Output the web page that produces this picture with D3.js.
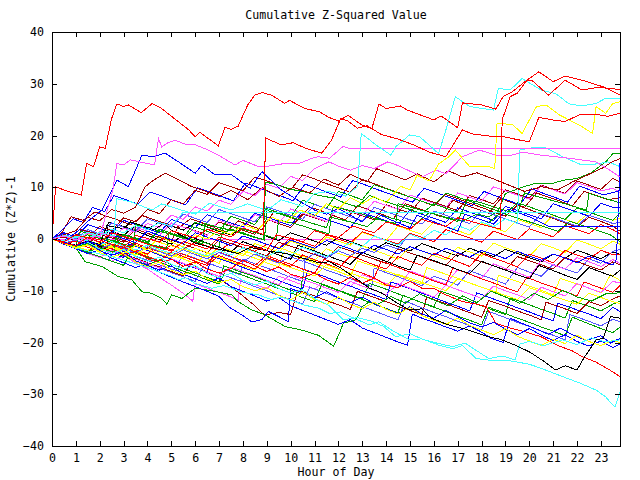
<!DOCTYPE html>
<html>
<head>
<meta charset="utf-8">
<script src="https://cdn.jsdelivr.net/npm/d3@7"></script>
<style>
  html, body { margin: 0; padding: 0; background: #fff; }
  svg { display: block; }
  text { font-family: "DejaVu Sans Mono", "Liberation Mono", monospace; font-size: 11.6px; fill: #000; }
</style>
</head>
<body>
<div id="chart"></div>
<script>
// tick labels
const hourTicks = d3.range(0, 24);
const valueTicks = [-40, -30, -20, -10, 0, 10, 20, 30, 40];

// line colours (old gd terminal palette)
const RED = '#ff0000', GREEN = '#00a000', BLUE = '#0000ff', MAGENTA = '#ff55ff', CYAN = '#44ffff',
      DARKRED = '#a00000', YELLOW = '#ffff00', BLACK = '#000000', SLATE = '#5555ff';

// each series: flat list of hour, cumulative value pairs
const s01 = [0,0, .15,10.1, .6,9.3, 1.23,8.5, 1.45,14.6, 1.74,14, 2,17.8, 2.23,17.5, 2.5,23.3, 2.72,26.1, 3,25.6, 3.2,25.9, 3.74,24.4, 4.2,26.2, 4.6,25.2, 5.2,23, 5.7,21.2, 6,19.8, 6.2,20.6, 6.97,18, 7.25,21.6, 7.5,21.2, 7.8,21.8, 8.2,25.9, 8.5,27.8, 8.8,28.3, 9.2,27.8, 9.75,26.2, 9.95,26.8, 10.6,25.2, 11.2,24.6, 11.6,23.5, 12,22.8, 12.4,23.9, 13,22, 13.4,21.3, 13.7,26.1, 14,25.2, 14.6,25.7, 14.9,24.9, 16,23, 16.3,23.8, 17,21.5, 17.2,26.3, 18,25.9, 18.6,25.1, 18.9,27.5, 19.3,28.5, 19.9,30.7, 20.4,32.3, 21,30.4, 21.5,31.5, 22.2,30.7, 23.1,29.4, 23.8,27.8];
const s02 = [0,0, .5,-.8, 1,-1.3, 1.5,.4, 2,-.2, 2.5,-1, 3,-1.6, 3.5,.7, 4,.1, 4.5,-.6, 5,1.6, 5.5,.9, 6,.2, 6.5,1.9, 7,1.1, 7.5,.4, 8,2.1, 8.5,1.4, 8.85,.9, 8.95,19.5, 9.6,18.2, 10.1,18.6, 10.6,17.6, 11,17, 11.3,16.6, 11.7,19, 12.1,23.3, 12.4,22.8, 12.8,21.4, 13.2,21.9, 13.8,20.2, 14.5,19.3, 15.2,18.1, 15.8,16.8, 16.5,15.9, 17.2,21.1, 17.6,20.3, 18.3,19.9, 18.9,19.8, 19.5,19.2, 20,18.8, 20.4,23.5, 21,23, 21.5,22.7, 22.1,24, 22.8,24.1, 23.3,23.7, 23.8,24.3];
const s03 = [0,0, .5,-.5, 1,.8, 1.5,.2, 2,-.6, 2.5,1.2, 3,.5, 3.5,-.2, 4,-1, 4.5,-1.7, 5,-2.3, 5.5,-.5, 6,-1.2, 6.5,-1.9, 7,.4, 7.5,-.3, 8,-1.1, 8.5,-1.6, 9,-2.2, 9.4,.8, 10,.1, 10.5,-.6, 11,1.6, 11.5,.9, 12,.3, 12.6,2.5, 13,1.9, 13.5,1.2, 14,3.3, 14.5,2.6, 15,1.9, 15.5,3.8, 16,3.1, 16.5,2.4, 17,4.1, 17.5,3.5, 18,2.8, 18.8,1.9, 18.86,23, 19.2,27.5, 19.5,28.2, 19.9,30.7, 20.1,30.7, 20.8,27.8, 21.3,29.8, 21.5,30.7, 22.2,28.8, 22.9,29.3, 23.8,28.9];
const s04 = [0,0, .5,-.4, 1,.6, 1.5,.1, 2,1.3, 2.6,.6, 2.7,7.8, 3.3,7.2, 4.2,5.6, 4.6,6.8, 5.2,5.9, 6,4.8, 6.6,6.9, 7.5,5.6, 8.2,6.8, 9,5.5, 9.6,7.6, 10.5,6.3, 11,8.8, 11.6,9.2, 12.3,8.3, 12.8,10.1, 12.96,20.4, 13.6,18.1, 14.2,16.2, 14.4,17.8, 14.98,20.1, 15.4,19.8, 16.2,16.5, 16.5,21, 16.9,27.5, 17.5,25.6, 18.5,24.9, 18.7,29.1, 19.2,28.8, 19.7,31, 20.5,28.8, 21.1,28.1, 21.67,26.1, 22.2,25.7, 22.8,26.2, 23.2,27.2, 23.8,27.2];
const s05 = [0,0, .5,-.9, 1,-1.6, 1.5,-1.1, 2,-2.4, 2.5,-1.5, 3,-2.8, 3.5,-1.2, 4,-2.1, 4.5,.5, 5,-.6, 5.5,-1.5, 6,.8, 6.5,0, 7,1.7, 7.5,.9, 8,2.8, 8.6,1.8, 9.2,4.2, 9.8,3.2, 10.4,5.6, 11,4.4, 11.5,6.8, 12,5.8, 12.5,8, 13,6.8, 13.5,8.2, 14,7, 14.6,10.2, 15,9.5, 15.3,12.3, 15.8,11.2, 16.2,14.5, 16.6,15.8, 16.9,17.2, 17.5,14, 18.3,14, 18.55,13.6, 18.65,22.4, 19.3,22.1, 19.7,20.4, 20.3,25.6, 20.7,25.9, 21.25,24, 22.1,22, 22.65,20.4, 22.8,25.6, 23.2,24.3, 23.5,26.2, 23.8,26.5];
const s06 = [0,0, .5,.6, 1,-.2, 1.5,1.1, 2,.3, 2.55,9.5, 2.72,14.6, 3,14.3, 3.28,15.3, 3.77,14.8, 4.3,14.3, 4.46,19.4, 4.6,17.8, 4.81,18.5, 5.16,19.1, 5.6,18.3, 6,18.2, 6.55,17.2, 6.97,16.2, 7.67,14.3, 8,15.2, 8.65,14, 9.1,14.1, 9.76,14.6, 10.3,14.5, 10.9,15.6, 11.16,15.9, 11.63,15.6, 12.2,17.9, 12.47,17.5, 23.8,17.5];
const s07 = [0,0, .5,-.3, 1,1.2, 1.5,3.4, 2.09,5.6, 2.72,11.4, 3.2,10.1, 3.77,16.2, 4.25,15.9, 4.74,16.6, 5.3,14.9, 6,12.7, 6.28,14.3, 6.83,12.4, 7.53,12.4, 8.3,9.8, 8.8,13, 9.6,9.5, 10.3,7.5, 11,5.6, 11.5,4.8, 12,5.9, 12.5,4.6, 13,3.3, 13.4,5.4, 14.2,3.7, 15,2.2, 15.3,4.6, 16.4,2.6, 17,1.5, 17.3,4.8, 18.5,2.9, 19.1,5.8, 20,4.3, 20.8,2.5, 23.8,2.5];
const s08 = [0,0, .5,.8, 1,1.6, 1.5,4.2, 2,3.5, 2.5,5.7, 3,5, 3.5,6.1, 3.9,10.1, 4.3,11.5, 4.74,12.7, 5.2,11.7, 5.86,10.1, 6.28,9.5, 7,8.2, 7.5,9.4, 8.2,7.6, 8.8,9.9, 9.5,8.2, 10.1,10, 10.8,8.9, 11.4,11.6, 12,10.4, 12.5,12.5, 13.2,11, 13.6,13.6, 14.2,12.5, 14.8,11.4, 15.3,12.6, 16,11, 16.6,13.2, 17.2,12, 17.8,12.8, 18.5,11.6, 19.2,10.3, 19.8,9.2, 20.5,10.1, 21.2,9.5, 21.8,11, 22.5,12.5, 23.1,13.8, 23.5,15, 23.8,15.5];
const s09 = [0,0, .5,-.5, 1,.4, 1.5,-.2, 2,1.2, 2.5,.4, 3,2.1, 3.5,1.3, 4,3, 4.5,2.2, 5,4.6, 5.5,3.8, 6,6.2, 6.5,5.4, 7,7.5, 7.5,6.7, 8,9.2, 8.5,8.4, 9,10.6, 9.5,9.8, 10,12.1, 10.5,11.3, 11,13.6, 11.6,14.9, 12,14.1, 12.5,13.3, 13,14.2, 13.5,13.6, 14.07,14.9, 14.5,14.2, 15,13.1, 15.5,12, 16.1,13.3, 16.5,12.6, 17.2,15.9, 17.9,17.2, 18.6,16.2, 19.2,16.1, 19.7,16.8, 20.5,16.2, 21.7,15.6, 22.8,14.9, 23.3,13.5, 23.8,12];
const s10 = [0,0, .5,-.8, 1,-1.7, 1.5,-2.3, 2,-2.9, 2.5,-3.4, 3,-4.1, 3.5,-4.8, 4,-5.5, 4.5,-6.4, 5,-7.2, 5.3,-7.9, 5.6,-7.5, 6,-8.6, 6.7,-9.5, 7.2,-9, 8,-10.3, 8.65,-10.8, 9.2,-11.7, 9.6,-11.2, 10.6,-12.8, 11.2,-13.4, 11.63,-14.4, 12.1,-14.1, 12.6,-15.2, 13.3,-16.6, 13.7,-16, 14.3,-17.8, 14.98,-19.5, 15.5,-19.3, 16.2,-20.5, 16.8,-21.2, 17.2,-20.6, 17.77,-23.1, 18.5,-23.5, 19,-23.4, 19.4,-23.7, 20,-24.2, 20.5,-25, 21.4,-26.6, 22.1,-27.8, 22.8,-29.2, 23.2,-30.5, 23.5,-32.1, 23.6,-32.4, 23.8,-29.5];
const s11 = [0,0, .5,-.5, 1,-1.3, 1.5,-.6, 2,-1.9, 2.5,-2.8, 3,-2, 3.5,-3.4, 4,-4.3, 4.5,-3.5, 5,-4.9, 5.5,-5.8, 6,-5.1, 6.5,-6.7, 7,-7.5, 7.5,-6.6, 8,-8, 8.5,-8.9, 9,-8.1, 9.5,-9.6, 10,-10.4, 10.5,-9.8, 11,-11.5, 11.6,-12.8, 12.2,-15.6, 12.8,-15.2, 13.4,-15.9, 13.9,-16.9, 14.4,-18.9, 15,-18.3, 15.6,-19.5, 16.2,-20.2, 16.8,-20.8, 17.3,-20.1, 18.3,-23.1, 18.9,-22.6, 19.4,-23.4, 19.6,-20.3, 20,-19.8, 20.6,-20.6, 21.4,-19.5, 22,-20.4, 22.6,-19.1, 23.2,-19.9, 23.8,-19.5];
const s12 = [0,0, .5,-.6, 1,-1.2, 1.5,-.4, 2,-1.1, 2.3,2.6, 3,2, 3.3,3.3, 3.8,2.5, 4.3,1.8, 4.7,3.1, 5,1.7, 5.5,.5, 6,-.8, 6.5,-1.4, 7,-2, 7.8,-2.8, 8.3,-1.6, 9,-2.3, 9.8,-2.8, 10.5,-3.7, 11.2,-4.6, 11.63,-4.4, 12.1,-5.6, 12.6,-7.2, 13.3,-9.5, 13.8,-10.4, 14.4,-12.2, 14.98,-13.7, 15.5,-13.5, 15.9,-15.3, 16.6,-16.6, 17.3,-17.4, 18.3,-18.9, 18.8,-19.4, 19.4,-20.5, 20,-21.8, 20.6,-23.6, 21.1,-25.3, 21.5,-24.5, 22,-25.3, 22.3,-22.9, 22.8,-19.5, 23.1,-19.2, 23.4,-15, 23.8,-15.3];
const s13 = [0,0, .5,-.9, 1,-.4, 1.5,-1.6, 2,-2.4, 2.5,-1.8, 3,-3.1, 3.5,-2.4, 4,-3.8, 4.5,-4.6, 5,-3.9, 5.5,-5.3, 6,-4.4, 6.5,-5.8, 7,-6.6, 7.5,-5.7, 8,-4.1, 8.5,-5.2, 9,-6.3, 9.5,-5.4, 10,-6.8, 10.5,-7.5, 11,-6.6, 11.5,-7.9, 12,-8.7, 12.5,-7.4, 13,-8.6, 13.5,-7.5, 14,-8.9, 14.5,-9.4, 15,-8.2, 15.5,-9.5, 16,-9.5, 16.4,-10.6, 17.2,-12.1, 17.8,-12.6, 18.2,-13.1, 18.6,-16.3, 19.2,-17.2, 19.8,-17.9, 20.5,-18.9, 21.2,-20.6, 21.8,-21.6, 22.2,-22.7, 22.8,-23.8, 23.4,-25.4, 23.8,-26.6];
const s14 = [0,0, .5,-.8, 1,-1.7, 1.39,-4.4, 2.09,-5.3, 2.79,-7.3, 3.35,-7.9, 3.77,-10.2, 4.18,-10.5, 4.6,-11.5, 4.81,-12.6, 5.02,-10.8, 5.44,-11.5, 6,-9.5, 6.7,-10, 7.53,-10.8, 7.8,-12.1, 8.37,-13.7, 8.9,-14.6, 9.76,-16.9, 10.46,-17.6, 11.16,-18.6, 11.8,-20.7, 12.1,-17.6, 12.2,-16.3, 12.75,-15.6, 13,-13.1, 13.3,-12.1, 13.6,-12.8, 14.2,-11.1, 14.8,-12.4, 15.4,-10.6, 16,-11.8, 16.6,-12.9, 17.2,-11, 17.8,-12.3, 18.4,-10.1, 19,-11.2, 19.6,-12.4, 20.2,-10.5, 20.8,-11.7, 21.4,-9.9, 22,-11.2, 22.6,-12, 23.2,-10.6, 23.8,-10.4];
const s15 = [0,0, .5,-1, 1,-1.9, 1.5,-2.8, 2,-2.1, 2.5,-3.7, 3,-4.6, 3.5,-5.5, 4,-4.8, 4.5,-6.4, 5,-7.4, 5.5,-8.3, 6,-9.2, 6.5,-10.1, 7,-11.1, 7.4,-13.1, 8,-14.8, 8.37,-16, 8.79,-15.6, 9.07,-14, 9.5,-15, 9.9,-16, 10,-9.6, 10.5,-10.4, 11,-11.3, 11.5,-10.2, 12,-11.4, 12.5,-12.3, 13,-11.2, 13.5,-12.5, 14,-13.5, 14.5,-14.4, 15,-13.1, 15.5,-14.5, 16,-15.3, 16.5,-13.8, 17,-15, 17.5,-16.2, 18,-17, 18.5,-16.1, 19,-17.4, 19.5,-18.5, 20,-17.3, 20.5,-18.6, 21,-19.6, 21.5,-18.5, 22,-19.8, 22.5,-20.7, 23,-19.7, 23.5,-21, 23.8,-20.3];
const s16 = [0,0, .5,-.7, 1,-1.5, 1.5,-.8, 2,-2.3, 2.5,-3.1, 3,-2.4, 3.5,-4.2, 4,-5.1, 4.5,-6, 5,-5.2, 5.5,-6.8, 6,-7.7, 6.5,-8.6, 7,-7.5, 7.5,-9.2, 8,-10.1, 8.5,-11, 9,-12, 9.5,-11.3, 10,-12.9, 10.5,-13.8, 11,-14.7, 11.5,-15.6, 12,-16.5, 12.5,-15.6, 13,-17.2, 13.5,-18.1, 14,-19, 14.5,-19.9, 14.9,-20.5, 15.1,-14.5, 15.5,-15.3, 16,-16.1, 16.5,-17, 17,-17.8, 17.5,-16.8, 18,-18, 18.4,-19.2, 18.9,-20, 19.2,-15.3, 19.8,-16.5, 20.3,-17.4, 20.8,-18.4, 21.3,-17.2, 21.8,-18.5, 22.4,-19.6, 23,-18.7, 23.4,-20.1, 23.8,-19.2];
const s17 = [0,0, .5,-.9, 1,-1.8, 1.5,-1.2, 2,-2.6, 2.5,-3.5, 3,-2.8, 3.5,-4.4, 4,-5.3, 4.5,-4.5, 5,-6, 5.5,-6.9, 6,-6.2, 6.5,-7.7, 7,-8.5, 7.5,-7.8, 8,-9.2, 8.5,-10, 9,-9.4, 9.5,-10.9, 10,-11.8, 10.5,-10.3, 11,-11.7, 11.5,-12.6, 12,-11.2, 12.5,-12.6, 13,-13.5, 13.5,-12.2, 14,-13.6, 14.5,-14.5, 15,-13.2, 15.5,-14.8, 16,-15.7, 16.5,-16.5, 17,-15.3, 17.5,-16.7, 18,-17.6, 18.5,-18.5, 19,-17.3, 19.5,-18.8, 20,-19.7, 20.5,-20.6, 21,-19.4, 21.5,-20.2, 22,-18.6, 22.5,-19.8, 23,-20.6, 23.5,-19.6, 23.8,-20];
const s18 = [0,0, .5,-.6, 1,-1.3, 1.2,1.5, 1.5,1.1, 2,.4, 2.5,-.3, 3,-1, 3.4,-1.5, 3.5,2.8, 4,2.2, 4.5,1.5, 5,.9, 5.5,.2, 6,-.5, 6.3,-.9, 6.4,3, 7,2.2, 7.5,1.7, 8,1, 8.5,.3, 8.9,-.2, 9,5.5, 9.5,4.9, 10,4.2, 10.5,3.6, 11,2.9, 11.5,2.2, 11.8,6.3, 12.5,5.5, 13,4.8, 13.5,4, 14,3.4, 14.4,3, 14.5,6.8, 15,6.2, 15.5,5.5, 16,4.9, 16.5,4.1, 17,3.4, 17.4,7.6, 18,7, 18.5,6.2, 19,5.5, 19.5,4.9, 19.8,8.9, 20.5,8, 21,7.4, 21.5,6.8, 22,6.1, 22.4,5.6, 22.5,8.8, 23,8.1, 23.5,7.4, 23.8,7];
const s19 = [0,0, .5,-.7, 1,-1.4, 1.5,-.9, 2,-1.8, 2.6,-2.5, 2.7,.8, 3.5,-.2, 4.2,-1.1, 4.8,-1.9, 4.9,1.2, 5.6,.3, 6.3,-.6, 7,-1.5, 7.2,2.8, 8,1.9, 8.8,.9, 9.4,.1, 9.5,3.7, 10.3,2.8, 11,1.8, 11.6,1, 11.7,4.2, 12.5,3.3, 13.2,2.4, 13.8,4.6, 14.5,3.7, 15.2,2.8, 15.8,5.1, 16.5,4.2, 17.2,3.4, 17.8,4.8, 18.3,4.3, 18.7,5.4, 19,8.8, 19.7,10, 20.3,10.8, 21,10.8, 21.5,11.4, 22,11.7, 22.6,12.8, 23.2,14.9, 23.5,16.5, 23.8,16.5];
const s20 = [0,0, .5,.6, 1,-.1, 1.5,.8, 2,.1, 2.5,-.6, 3,.9, 3.5,.2, 4,-.5, 4.5,1.6, 5,.9, 5.5,.1, 6,2.3, 6.5,1.5, 7,.7, 7.5,1.9, 8,1.2, 8.5,.4, 8.85,-.1, 8.95,11, 9.5,10.4, 10,9.6, 10.6,9.1, 11.2,8.4, 11.8,7.9, 12.3,6.9, 12.8,6.2, 13.3,8.4, 13.8,7.5, 14.4,6.6, 15,5.7, 15.5,4.9, 16,6.8, 16.6,5.8, 17.2,4.9, 17.8,4, 18.3,3.2, 18.8,5.1, 19.4,4.2, 20,3.3, 20.6,2.4, 21.2,1.5, 21.7,3.4, 22.3,2.5, 22.9,1.6, 23.4,.8, 23.8,-.5];
const s21 = [0,0, .5,-.5, 1,.3, 1.5,-.4, 2,-1.1, 2.5,-.5, 3,-1.4, 3.5,-2.1, 4,-1.2, 4.5,-2, 5,-2.8, 5.5,-1.6, 6,-2.5, 6.5,-3.3, 7,-2.2, 7.5,-3.1, 8,-1.7, 8.5,-2.6, 9,-3.4, 9.5,-2.3, 10,-3.2, 10.5,-1.6, 11,-2.5, 11.5,-3.4, 12,-2.1, 12.5,-.6, 13,-1.5, 13.5,.6, 14,-.3, 14.5,-1.2, 15,.9, 15.5,0, 16,1.7, 16.5,.8, 17,2.6, 17.5,1.7, 18,3.3, 18.5,2.4, 19,3.9, 19.5,3, 19.6,17.2, 20.1,17.6, 20.7,17.6, 21.4,15.9, 22.2,14.3, 22.8,14.5, 23.3,14.9, 23.8,14];
const s22 = [0,0, .5,.7, 1,.2, 1.5,1.3, 2,.6, 2.5,1.9, 3,1.2, 3.5,2.6, 4,1.8, 4.5,3.2, 5,2.5, 5.5,5.2, 23.8,5.2];
const s23 = [0,0, 23.8,0];
const s24 = [0,0, .5,-.8, 1,-.2, 1.5,-1.1, 2,-1.9, 2.5,-1, 3,-1.8, 3.5,-2.7, 4,-1.5, 4.5,-2.4, 5,-3.3, 5.5,-2.1, 6,-3, 6.5,-3.8, 7,-2.6, 7.5,-3.5, 8,-4.4, 8.5,-2.9, 9,-3.8, 9.5,-4.6, 10,-3.4, 10.5,-4.3, 11,-2.8, 11.5,-3.7, 12,-2.3, 12.5,-3.2, 13,-1.8, 13.5,-2.6, 14,-1.2, 14.5,-1.9, 14.8,0, 23.8,0];
const s25 = [0,0, .3,4.8, 1,4, 1.5,3.3, 2,2.5, 2.3,5.8, 3,5, 3.5,4.2, 4,6.9, 4.5,6.1, 5,5.3, 5.5,4.6, 6,7.2, 6.5,6.4, 7,5.6, 7.5,4.8, 8,6.5, 8.5,5.7, 9,4.9, 9.5,7.7, 10,6.9, 10.5,6.1, 11,5.3, 11.5,8.4, 12,7.6, 12.5,6.8, 13,6, 13.5,8.7, 14,7.9, 14.5,7.1, 15,6.3, 15.5,5.5, 16,8.2, 16.5,7.4, 17,6.6, 17.5,9.1, 18,8.3, 18.5,7.5, 19,6.7, 19.5,9.4, 20,8.6, 20.5,7.8, 21,9.9, 21.5,9.1, 22,8.3, 22.5,10.6, 23,9.8, 23.5,12.2, 23.8,11.6];
const s26 = [0,0, .5,-.6, 1,-1.3, 1.5,-.5, 2,-1.2, 2.5,.8, 3,.1, 3.5,-.7, 4,1.5, 4.5,.7, 5,-.1, 5.5,-.9, 6,1.2, 6.5,.4, 7,-.4, 7.5,-1.3, 8,.6, 8.5,-.2, 9,-1, 9.5,-1.9, 10,-.2, 10.5,-1, 11,-1.8, 11.5,-.3, 12,-1.1, 12.5,-1.9, 13,-2.8, 13.5,-1.2, 14,-2, 14.5,-2.9, 15,-1.5, 15.5,-2.3, 16,-3.1, 16.5,-1.8, 17,-2.6, 17.5,-3.5, 18,-2.2, 18.5,-3, 19,-3.8, 19.5,-2.4, 20,-3.3, 20.5,-4.1, 21,-2.9, 21.5,-3.7, 22,-4.6, 22.5,-3.3, 23,-4.2, 23.5,-5, 23.65,-4, 23.8,14.6];
const s27 = [0,0, .4,1.1, .8,4.3, 1.3,3.6, 1.8,5.2, 2.3,4.4, 2.8,3.6, 3.3,2.8, 3.8,4.5, 4.3,3.7, 4.8,2.9, 5.3,2.1, 5.8,3.9, 6.3,3.1, 6.8,2.2, 7.3,1.4, 7.8,3.5, 8.3,2.6, 8.8,1.8, 9.3,5.3, 9.8,4.5, 10.3,3.6, 10.8,6.2, 11.3,5.4, 11.8,4.5, 12.3,3.7, 12.8,6.4, 13.3,5.6, 13.8,4.8, 14.3,3.9, 14.8,6.8, 15.3,6, 15.8,5.2, 16.3,4.3, 16.8,7.5, 17.3,6.6, 17.8,5.8, 18.3,5, 18.8,7.8, 19.3,7, 19.8,6.1, 20.3,8.9, 20.8,8.1, 21.3,7.3, 21.8,6.4, 22.3,9.2, 22.8,8.4, 23.3,7.6, 23.8,8];
const s28 = [0,0, .5,-.8, 1,-1.6, 1.5,-2.4, 2,-1.2, 2.5,-2, 3,-2.8, 3.5,-1.3, 4,-2.1, 4.5,-2.9, 5,-3.7, 5.5,-1.9, 6,-2.7, 6.5,-3.5, 7,-1.6, 7.5,-2.4, 8,-3.2, 8.5,-.9, 9,-1.7, 9.5,-2.5, 10,-.4, 10.5,-1.2, 11,-2, 11.5,.4, 12,-.4, 12.5,-1.2, 13,1.3, 13.5,.5, 14,-.3, 14.5,2.5, 15,1.7, 15.5,.9, 16,3.2, 16.5,2.4, 17,1.6, 17.5,.8, 18,3, 18.5,2.2, 19,1.4, 19.5,3.8, 20,3, 20.5,2.2, 21,4.6, 21.5,3.8, 22,3, 22.5,5.2, 23,4.4, 23.5,3.6, 23.8,4];
const s29 = [0,0, .5,-.7, 1,-1.4, 1.5,-.6, 2,-1.3, 2.5,1.4, 3,.7, 3.5,2.6, 4,1.9, 4.5,3.2, 5,2.5, 5.5,1.7, 6,3.1, 6.5,2.3, 7,1.5, 7.5,.8, 8,2.1, 8.5,1.3, 9,.5, 9.5,-.3, 10,1.2, 10.5,.4, 11,-.4, 11.5,-1.2, 12,.3, 12.5,-.5, 13,-1.3, 13.5,-2.1, 14,-.7, 14.5,-1.5, 15,-2.3, 15.5,-.9, 16,-1.7, 16.5,-2.5, 17,-3.3, 17.5,-1.8, 18,-2.6, 18.5,-3.4, 19,-2, 19.5,-2.8, 20,-3.6, 20.5,-4.4, 21,-2.9, 21.5,-3.7, 22,-2.2, 22.5,-3, 23,-3.8, 23.5,-2.5, 23.8,-3];
const s30 = [0,0, .5,-.9, 1,-.3, 1.5,-1.2, 2,-2, 2.5,-1.1, 3,-1.9, 3.5,-.8, 4,-1.7, 4.5,-2.5, 5,-1.2, 5.5,-2, 6,-.6, 6.5,-1.4, 7,-2.2, 7.5,-.8, 8,-1.6, 8.5,-2.4, 9,-1, 9.5,-1.8, 10,.2, 10.5,-.6, 11,-1.4, 11.5,.8, 12,0, 12.5,-.8, 13,1.4, 13.5,.6, 14,-.2, 14.5,-1, 15,1.1, 15.5,.3, 16,-.5, 16.5,1.8, 17,1, 17.5,.2, 18,-.6, 18.5,1.5, 19,.7, 19.5,-.1, 20,2, 20.5,1.2, 21,.4, 21.5,2.6, 22,1.8, 22.5,1, 23,2.8, 23.5,1.8, 23.8,1];
const s31 = [0,0, .5,-1, 1,-1.8, 1.5,-2.7, 2,-3.5, 2.4,-4.1, 2.5,-1.5, 3,-2.4, 3.5,-3.3, 4,-4.1, 4.5,-5, 5,-5.8, 5.3,-6.2, 5.4,-2.8, 6,-3.7, 6.5,-4.6, 7,-5.4, 7.5,-6.3, 7.9,-6.9, 8,-3.9, 8.5,-4.8, 9,-5.6, 9.5,-6.5, 10,-7.4, 10.5,-8.2, 10.6,-4.4, 11,-5.1, 11.5,-6, 12,-6.8, 12.5,-7.7, 13,-8.5, 13.4,-9.2, 13.5,-5.6, 14,-6.5, 14.5,-7.3, 15,-8.2, 15.5,-9, 16,-7.2, 16.5,-8, 17,-8.9, 17.5,-6.1, 18,-7, 18.5,-7.8, 19,-8.7, 19.5,-5.5, 20,-6.4, 20.5,-7.2, 21,-4.9, 21.5,-5.8, 22,-6.6, 22.5,-3.8, 23,-4.7, 23.5,-2.4, 23.8,-2];
const s32 = [0,0, .5,.4, 1,-.4, 1.5,-1.2, 2,1.3, 2.5,.5, 3,-.3, 3.5,-1.1, 4,-1.9, 4.5,.6, 5,-.2, 5.5,-1, 6,-1.8, 6.5,-2.7, 7,-.1, 7.5,-.9, 8,-1.7, 8.5,-2.5, 9,-3.3, 9.5,-.6, 10,-1.4, 10.5,-2.2, 11,-3, 11.5,-3.8, 12,-1.5, 12.5,-2.3, 13,-3.1, 13.5,-3.9, 14,-4.7, 14.5,-1.9, 15,-2.7, 15.5,-3.5, 16,-4.3, 16.5,-5.1, 17,-2.8, 17.5,-3.6, 18,-4.4, 18.5,-5.2, 19,-6, 19.5,-3.4, 20,-4.2, 20.5,-5, 21,-5.8, 21.5,-3.6, 22,-4.4, 22.5,-5.2, 23,-6, 23.5,-4.4, 23.8,-5];
const s33 = [0,0, .5,-.9, 1,-1.7, 1.5,-2.6, 2,-3.4, 2.5,-4.3, 3,-3.2, 3.5,-4.6, 4,-5.8, 4.5,-7.4, 5,-8.9, 5.5,-10.5, 5.9,-12, 6,-8.6, 6.5,-9.5, 7,-10.3, 7.5,-11.2, 7.8,-11.8, 7.9,-7.9, 8.5,-8.8, 9,-9.6, 9.5,-7.2, 10,-8, 10.5,-8.9, 11,-9.7, 11.5,-7.5, 12,-8.3, 12.5,-9.2, 13,-6.9, 13.5,-7.7, 14,-8.6, 14.5,-9.4, 15,-6.2, 15.5,-7, 16,-7.9, 16.5,-8.7, 17,-5.9, 17.5,-6.8, 18,-7.6, 18.5,-4.8, 19,-5.7, 19.5,-6.5, 20,-7.4, 20.5,-4.1, 21,-5, 21.5,-5.8, 22,-3.6, 22.5,-4.4, 23,-5.3, 23.5,-4, 23.8,-4.7];
const s34 = [0,0, .5,-.7, 1,-1.5, 1.5,.9, 2,.2, 2.5,-.6, 3,-1.4, 3.5,-2.3, 4,-3.1, 4.3,-.4, 5,-1.3, 5.5,-2.1, 6,-3, 6.5,-3.8, 7,-4.7, 7.3,-1.9, 8,-2.9, 8.5,-3.7, 9,-4.6, 9.5,-5.4, 9.7,-2.6, 10.3,-3.5, 11,-4.6, 11.5,-5.5, 12,-6.3, 12.5,-7.2, 12.8,-4.2, 13.5,-5.3, 14,-6.2, 14.5,-7, 15,-7.9, 15.5,-8.7, 15.7,-5.5, 16.5,-6.8, 17,-7.6, 17.5,-8.5, 18,-9.3, 18.6,-10.3, 18.7,-7, 19.5,-8.2, 20,-9.1, 20.5,-9.9, 21,-10.8, 21.3,-7.6, 22,-8.7, 22.5,-9.5, 23,-10.4, 23.4,-6.9, 23.8,-8];
const s35 = [0,0, .5,-.8, 1,-1.6, 1.5,-2.5, 2,-1.6, 2.5,-2.5, 3,-3.3, 3.5,-4.2, 4,-5, 4.5,-4, 5,-4.9, 5.5,-5.7, 6,-6.6, 6.5,-7.4, 7,-8.3, 7.2,-5.2, 8,-6.5, 8.5,-7.3, 9,-8.2, 9.5,-9, 10,-9.9, 10.4,-10.5, 10.5,-7.3, 11,-8.2, 11.5,-9, 12,-9.9, 12.5,-10.7, 13,-11.6, 13.3,-8.6, 14,-9.7, 14.5,-10.6, 15,-11.4, 15.5,-12.3, 16,-13.1, 16.3,-10.1, 17,-11.2, 17.5,-12.1, 18,-12.9, 18.5,-13.8, 19,-14.6, 19.2,-11.4, 20,-12.7, 20.5,-13.6, 21,-14.4, 21.5,-15.3, 21.8,-11.9, 22.5,-13, 23,-13.9, 23.5,-12.6, 23.8,-12];
const s36 = [0,0, .5,-.9, 1,-.2, 1.5,-1.1, 2,-1.9, 2.5,-2.8, 3,-3.6, 3.2,-.9, 4,-2.2, 4.5,-3.1, 5,-3.9, 5.5,-4.8, 6,-5.6, 6.5,-6.5, 6.7,-3.3, 7.5,-4.6, 8,-5.5, 8.5,-6.3, 9,-7.2, 9.5,-8, 10,-8.9, 10.5,-9.7, 10.7,-6.1, 11.5,-7.4, 12,-8.3, 12.5,-9.1, 13,-10, 13.5,-10.8, 14,-11.7, 14.2,-8.3, 15,-9.6, 15.5,-10.5, 16,-11.3, 16.5,-12.2, 17,-13, 17.5,-13.9, 17.8,-10.4, 18.5,-11.6, 19,-12.4, 19.5,-13.3, 20,-14.1, 20.5,-15, 21,-15.8, 21.2,-12.4, 22,-13.7, 22.5,-14.5, 23,-15.4, 23.5,-13.2, 23.8,-14];
const s37 = [0,0, .5,.9, 1,.1, 1.5,-.7, 2,-1.6, 2.5,-.4, 3,-1.2, 3.5,-2.1, 4,-2.9, 4.5,-1.3, 5,-2.1, 5.5,-3, 6,-3.8, 6.5,-4.7, 7,-2.5, 7.5,-3.4, 8,-4.2, 8.5,-5.1, 9,-3.2, 9.5,-4.1, 10,-4.9, 10.5,-5.8, 11,-6.6, 11.4,-3.9, 12,-4.9, 12.5,-5.8, 13,-6.6, 13.5,-7.5, 13.8,-4.3, 14.5,-5.5, 15,-6.4, 15.5,-7.2, 16,-8.1, 16.5,-8.9, 16.8,-5.6, 17.5,-6.8, 18,-7.7, 18.5,-8.5, 19,-9.4, 19.5,-10.2, 19.9,-7.4, 20.5,-8.5, 21,-9.3, 21.5,-10.2, 22,-11, 22.3,-8.3, 23,-9.5, 23.5,-10.3, 23.8,-9];
const s38 = [0,0, .5,-.6, 1,-1.5, 1.5,-2.3, 2,-1.2, 2.5,-2, 3,-2.9, 3.5,-3.7, 4,-4.6, 4.5,-5.4, 5,-6.3, 5.5,-7.1, 5.8,-4.8, 6.5,-6.4, 7,-7.7, 7.5,-9.2, 8,-11, 8.5,-12.9, 8.9,-14.7, 9.5,-14.2, 10,-14.6, 10.3,-9.9, 11,-11, 11.5,-11.9, 12,-12.7, 12.5,-13.6, 12.8,-10.1, 13.5,-11.3, 14,-12.1, 14.5,-13, 15,-13.8, 15.5,-14.7, 15.7,-11.2, 16.5,-12.5, 17,-13.4, 17.5,-14.2, 18,-15.1, 18.3,-11.9, 19,-13, 19.5,-13.9, 20,-14.7, 20.5,-15.6, 20.7,-12.2, 21.5,-13.5, 22,-14.4, 22.5,-12.1, 23,-12.9, 23.5,-11.6, 23.8,-11];
const s39 = [0,0, .5,-.9, 1,-1.8, 1.5,-2.6, 2,-3.5, 2.5,-2.2, 3,-3.1, 3.5,-3.9, 4,-4.8, 4.5,-5.6, 5,-6.5, 5.5,-7.3, 6,-8.2, 6.3,-5.4, 7,-6.6, 7.5,-7.5, 8,-8.3, 8.5,-9.2, 9,-10, 9.5,-10.9, 10,-11.7, 10.5,-12.6, 10.8,-9.3, 11.5,-10.5, 12,-11.4, 12.5,-12.2, 13,-13.1, 13.5,-13.9, 14,-14.8, 14.5,-15.6, 14.8,-12, 15.5,-13.3, 16,-14.2, 16.5,-15, 17,-15.9, 17.5,-16.7, 18,-17.6, 18.3,-14, 19,-15.2, 19.5,-16.1, 20,-16.9, 20.5,-17.8, 21,-18.6, 21.5,-19.5, 21.7,-14.6, 22.5,-15.9, 23,-16.8, 23.5,-15.5, 23.8,-16];
const s40 = [0,0, .5,-.5, 1,.2, 1.5,-.6, 2,-1.4, 2.3,-2, 2.35,3.3, 3,2.4, 3.5,1.6, 4,.7, 4.5,-.1, 5,-1, 5.5,.9, 6,.1, 6.5,-.8, 7,-1.6, 7.5,-2.5, 8,-.5, 8.5,-1.4, 9,-2.2, 9.5,-3.1, 10,-3.9, 10.3,-1.2, 11,-2.3, 11.5,-3.2, 12,-4, 12.5,-4.9, 13,-2.6, 13.5,-3.5, 14,-4.3, 14.5,-5.2, 15,-6, 15.3,-3.1, 16,-4.2, 16.5,-5, 17,-5.9, 17.5,-6.7, 18,-4.3, 18.5,-5.2, 19,-6, 19.5,-6.9, 20,-7.7, 20.4,-5.1, 21,-6.1, 21.5,-7, 22,-7.8, 22.5,-5.5, 23,-6.4, 23.5,-7.2, 23.8,-6];
const s41 = [0,0, .5,-.8, 1,-1.5, 1.5,-2.3, 2,-.5, 2.5,-1.3, 3,-2.2, 3.5,-3, 4,-1.1, 4.5,-2, 5,-2.8, 5.5,-3.7, 6,-1.8, 6.5,-2.6, 7,-3.5, 7.5,-4.3, 8,-2.2, 8.5,-3.1, 9,-3.9, 9.5,-1.6, 10,-2.5, 10.5,-3.3, 11,-4.2, 11.5,-1.9, 12,-2.8, 12.5,-3.6, 13,-1.3, 13.5,-2.2, 14,-3, 14.5,-3.9, 15,-1.5, 15.5,-2.3, 16,-3.2, 16.5,-4, 17,-1.6, 17.5,-2.5, 18,-3.3, 18.5,-.8, 19,-1.7, 19.5,-2.5, 20,-3.4, 20.5,-.9, 21,-1.7, 21.5,-2.6, 22,-.2, 22.5,-1, 23,-1.9, 23.5,-.4, 23.8,-1];
const s42 = [0,0, .5,-.9, 1,-1.7, 1.5,-2.6, 2,-3.4, 2.5,-4.3, 3,-5.1, 3.3,-2.4, 4,-3.6, 4.5,-4.5, 5,-5.3, 5.5,-6.2, 6,-7, 6.5,-7.9, 7,-8.7, 7.3,-5.8, 8,-7, 8.5,-7.9, 9,-8.7, 9.5,-9.6, 10,-10.4, 10.5,-11.3, 11,-12.1, 11.3,-8.8, 12,-10, 12.5,-10.9, 13,-11.7, 13.5,-12.6, 14,-13.4, 14.5,-14.3, 14.7,-10.9, 15.5,-12.3, 16,-13.2, 16.5,-14, 17,-14.9, 17.5,-15.7, 18,-16.6, 18.3,-13.2, 19,-14.4, 19.5,-15.3, 20,-16.1, 20.5,-17, 21,-17.8, 21.5,-18.7, 21.8,-15.1, 22.5,-16.4, 23,-17.3, 23.5,-18.1, 23.8,-17];
const s43 = [0,0, .5,1.2, 1,.4, 1.5,2.8, 2,2, 2.5,1.2, 3,3.6, 3.5,2.8, 4,2, 4.5,1.2, 5,3.8, 5.5,3, 6,2.2, 6.5,4.7, 7,3.9, 7.5,3.1, 8,2.3, 8.5,5, 9,4.2, 9.5,3.4, 10,2.6, 10.5,5.4, 11,4.6, 11.5,3.8, 12,3, 12.5,2.2, 13,5.1, 13.5,4.3, 14,3.5, 14.5,2.7, 15,5.6, 15.5,4.8, 16,4, 16.5,3.2, 17,6, 17.5,5.2, 18,4.4, 18.5,3.6, 19,6.3, 19.5,5.5, 20,4.7, 20.5,3.9, 21,6.8, 21.5,6, 22,5.2, 22.5,4.4, 23,6.9, 23.5,6.1, 23.8,6];
const s44 = [0,0, .5,-1, 1,-1.9, 1.5,-1, 2,-1.9, 2.5,-2.8, 3,-1.6, 3.5,-2.5, 4,-3.4, 4.5,-4.2, 5,-2.5, 5.5,-3.4, 6,-4.3, 6.5,-5.1, 7,-3.2, 7.5,-4.1, 8,-4.9, 8.5,-5.8, 9,-3.6, 9.5,-4.4, 10,-5.3, 10.5,-3.1, 11,-4, 11.5,-4.8, 12,-5.7, 12.5,-3.3, 13,-4.1, 13.5,-5, 14,-5.8, 14.5,-3.4, 15,-4.3, 15.5,-5.1, 16,-2.7, 16.5,-3.6, 17,-4.4, 17.5,-5.3, 18,-2.8, 18.5,-3.7, 19,-4.5, 19.5,-5.4, 20,-2.9, 20.5,-3.7, 21,-4.6, 21.5,-2.2, 22,-3.1, 22.5,-3.9, 23,-2.2, 23.5,-3, 23.8,-3];
const s45 = [0,0, .5,-.7, 1,-1.4, 1.2,1.8, 2,.9, 2.5,.2, 3,-.6, 3.5,1.9, 4,1.1, 4.5,.3, 5,-.5, 5.3,2.6, 6,1.6, 6.5,.8, 7,3.3, 7.5,2.5, 8,1.7, 8.5,.9, 9,3.8, 9.5,3, 10,2.2, 10.5,4.9, 11,4.1, 11.5,3.3, 12,6.1, 12.5,5.3, 13,4.5, 13.5,3.7, 14,6.6, 14.5,5.8, 15,5, 15.5,7.9, 16,7.1, 16.5,6.3, 17,5.5, 17.5,8.4, 18,7.6, 18.5,6.8, 19,9.5, 19.5,8.7, 20,7.9, 20.5,10.4, 21,9.6, 21.5,8.8, 22,11.2, 22.5,10.4, 23,9.6, 23.5,11.7, 23.8,11];
const s46 = [0,0, .5,.8, 1,.1, 1.5,-.7, 2,1.5, 2.5,.7, 3,-.1, 3.5,2.3, 4,1.5, 4.5,.7, 5,3.1, 5.5,2.3, 6,1.5, 6.5,.7, 7,3.6, 7.5,2.8, 8,2, 8.5,4.7, 9,3.9, 9.5,3.1, 10,5.8, 10.5,5, 11,4.2, 11.5,3.4, 12,6.2, 12.5,5.4, 13,4.6, 13.5,7.3, 14,6.5, 14.5,5.7, 15,8.5, 15.5,7.7, 16,6.9, 16.5,6.1, 17,8.9, 17.5,8.1, 18,7.3, 18.5,10.1, 19,9.3, 19.5,8.5, 20,7.7, 20.5,10.3, 21,9.5, 21.5,8.7, 22,10.9, 22.5,10.1, 23,9.3, 23.5,9.8, 23.8,9];
const s47 = [0,0, .4,1.6, .9,3.9, 1.3,3.2, 1.7,6.1, 2.2,5.3, 2.6,8.4, 3.1,7.6, 3.6,6.7, 4.1,9.1, 4.6,8.3, 5.1,7.4, 5.6,6.6, 6.1,9.9, 6.6,9.1, 7.1,8.2, 7.6,7.4, 8.1,10.8, 8.6,10, 9.1,9.1, 9.6,8.3, 10.1,7.4, 10.6,10.6, 11.1,9.8, 11.6,8.9, 12.1,8.1, 12.6,11.3, 13.1,10.5, 13.6,9.6, 14.1,8.8, 14.6,7.9, 15.1,7.1, 15.6,9.8, 16.1,9, 16.6,8.1, 17.1,7.3, 17.6,6.4, 18.1,9.2, 18.6,8.3, 19.1,7.5, 19.6,6.6, 20.1,9.7, 20.6,8.8, 21.1,8, 21.6,7.1, 22.1,10.2, 22.6,9.4, 23.1,8.5, 23.8,9.3];
const s48 = [0,0, .5,-.7, 1,.9, 1.5,.2, 2,2.4, 2.5,1.6, 3,4.1, 3.5,3.3, 4,5.7, 4.5,4.9, 5,7.6, 5.5,6.8, 6,9.4, 6.5,8.6, 7,10.9, 7.5,10.1, 8,9.3, 8.5,12, 9,11.2, 9.5,10.4, 10,9.5, 10.5,12.4, 11,11.6, 11.5,10.7, 12,9.9, 12.5,9, 13,11.5, 13.5,10.7, 14,9.8, 14.5,9, 15,8.1, 15.5,7.3, 16,6.4, 16.5,8.6, 17,7.8, 17.5,6.9, 18,6.1, 18.5,5.2, 19,4.4, 19.5,6.5, 20,5.7, 20.5,4.8, 21,4, 21.5,3.1, 22,2.3, 22.5,4.2, 23,3.4, 23.5,2.5, 23.8,1.5];
const s49 = [0,0, .5,-.8, 1,-1.6, 1.5,-.3, 2,-1.1, 2.5,-1.9, 3,.8, 3.5,0, 4,-.8, 4.5,1.9, 5,1.1, 5.5,.3, 6,3.2, 6.5,2.4, 7,1.6, 7.5,4.4, 8,3.6, 8.5,2.8, 9,5.9, 9.5,5.1, 10,4.3, 10.5,7.5, 11,6.7, 11.5,5.9, 12,9.2, 12.5,8.4, 13,7.6, 13.5,10.5, 14,9.7, 14.5,8.9, 15,8.1, 15.5,7.3, 16,6.5, 16.5,8.9, 17,8.1, 17.5,7.3, 18,6.5, 18.5,5.7, 19,4.9, 19.5,7, 20,6.2, 20.5,5.4, 21,4.6, 21.5,3.8, 22,6, 22.5,5.2, 23,4.4, 23.5,3.6, 23.8,5];
const s50 = [0,0, .5,.9, 1,.1, 1.5,1.8, 2,1, 2.5,3.1, 3,2.3, 3.5,1.5, 4,3.9, 4.5,3.1, 5,2.3, 5.5,4.8, 6,4, 6.5,3.2, 7,5.7, 7.5,4.9, 8,4.1, 8.5,3.3, 9,6.2, 9.5,5.4, 10,4.6, 10.5,3.8, 11,6.7, 11.5,5.9, 12,5.1, 12.5,4.3, 13,3.5, 13.5,6.1, 14,5.3, 14.5,4.5, 15,3.7, 15.5,2.9, 16,5.4, 16.5,4.6, 17,3.8, 17.5,3, 18,5.5, 18.5,4.7, 19,3.9, 19.5,3.1, 20,2.3, 20.5,4.9, 21,4.1, 21.5,3.3, 22,2.5, 22.5,4.6, 23,3.8, 23.5,3, 23.8,3.2];
const s51 = [0,0, .5,-.6, 1,-1.4, 1.5,-2.2, 2,-.8, 2.5,-1.6, 3,-2.4, 3.5,-3.2, 4,-1.5, 4.5,-2.3, 5,-3.1, 5.5,-3.9, 6,-4.7, 6.5,-2.8, 7,-3.6, 7.5,-4.4, 8,-5.2, 8.5,-6, 9,-3.9, 9.5,-4.7, 10,-5.5, 10.5,-6.3, 11,-7.1, 11.5,-5, 12,-5.8, 12.5,-6.6, 13,-7.4, 13.5,-8.2, 14,-9, 14.5,-6.8, 15,-7.6, 15.5,-8.4, 16,-9.2, 16.5,-10, 17,-7.7, 17.5,-8.5, 18,-9.3, 18.5,-10.1, 19,-10.9, 19.5,-11.7, 20,-9.4, 20.5,-10.2, 21,-11, 21.5,-11.8, 22,-12.6, 22.5,-10.5, 23,-11.3, 23.5,-12.1, 23.8,-12.5];
const s52 = [0,0, .5,-1, 1,-1.9, 1.5,-2.8, 2,-3.6, 2.5,-2.1, 3,-3, 3.5,-3.9, 4,-4.7, 4.5,-5.6, 5,-3.8, 5.5,-4.7, 6,-5.5, 6.5,-6.4, 7,-7.2, 7.5,-5.4, 8,-6.3, 8.5,-7.1, 9,-8, 9.5,-8.8, 10,-6.9, 10.5,-7.8, 11,-8.6, 11.5,-9.5, 12,-10.3, 12.5,-8.2, 13,-9.1, 13.5,-9.9, 14,-10.8, 14.5,-8.6, 15,-9.5, 15.5,-10.3, 16,-11.2, 16.5,-8.9, 17,-9.8, 17.5,-10.6, 18,-11.5, 18.5,-9.1, 19,-10, 19.5,-10.8, 20,-11.7, 20.5,-9.3, 21,-10.2, 21.5,-11, 22,-8.6, 22.5,-9.5, 23,-10.3, 23.5,-8.2, 23.8,-8.5];

// drawing order and colour of each series
const seriesList = [s23, s27, s28, s29, s30, s31, s32, s33, s34, s35, s36, s37, s38, s39, s40, s41, s42, s43, s44, s45, s46,
  s47, s48, s49, s50, s51, s52,
  s24, s13, s14, s15, s16, s17, s18, s19, s20, s21, s11, s12, s10, s26, s08, s09, s07, s22, s06, s05, s04, s02, s03, s01];
const seriesColors = [MAGENTA, DARKRED, YELLOW, BLACK, RED, SLATE, DARKRED, MAGENTA, YELLOW, GREEN, BLUE, RED, DARKRED, SLATE, BLACK, YELLOW, GREEN, BLUE, RED, DARKRED, MAGENTA,
  BLUE, DARKRED, GREEN, SLATE, YELLOW, MAGENTA,
  SLATE, RED, GREEN, BLUE, BLUE, YELLOW, GREEN, GREEN, GREEN, CYAN, CYAN, BLACK, CYAN, BLUE, DARKRED, MAGENTA, BLUE, CYAN, MAGENTA, YELLOW, CYAN, RED, RED, RED];

const toPairs = (flat) => d3.range(0, flat.length, 2).map((i) => [flat[i], flat[i + 1]]);

const width = 640;
const height = 480;
const plot = { left: 52, right: 620, top: 32, bottom: 446 };

const svg = d3.select('#chart')
  .append('svg')
  .attr('width', width)
  .attr('height', height)
  .style('background', '#fff');

const x = d3.scaleLinear().domain([0, 23.8]).range([plot.left, plot.right]);
const y = d3.scaleLinear().domain([-40, 40]).range([plot.bottom, plot.top]);

svg.append('defs').append('clipPath').attr('id', 'plot-clip')
  .append('rect')
  .attr('x', plot.left).attr('y', plot.top)
  .attr('width', plot.right - plot.left).attr('height', plot.bottom - plot.top);

// lines
const line = d3.line().x((d) => x(d[0])).y((d) => y(d[1]));

svg.append('g')
  .attr('clip-path', 'url(#plot-clip)')
  .selectAll('path')
  .data(seriesList)
  .join('path')
  .attr('d', (d) => line(toPairs(d)))
  .attr('fill', 'none')
  .attr('stroke', (d, i) => seriesColors[i])
  .attr('stroke-width', 1)
  .attr('shape-rendering', 'crispEdges');

// axes: ticks point inward on all four sides, border formed by the domain lines
const axisStyle = (g) => {
  g.attr('shape-rendering', 'crispEdges');
  g.selectAll('path, line').attr('stroke', '#000');
};

svg.append('g')
  .attr('transform', `translate(0,${plot.bottom})`)
  .call(d3.axisBottom(x).tickValues(hourTicks).tickSize(-5).tickSizeOuter(0).tickPadding(8).tickFormat(d3.format('d')))
  .call(axisStyle);

svg.append('g')
  .attr('transform', `translate(0,${plot.top})`)
  .call(d3.axisTop(x).tickValues(hourTicks).tickSize(-5).tickSizeOuter(0).tickFormat(''))
  .call(axisStyle);

svg.append('g')
  .attr('transform', `translate(${plot.left},0)`)
  .call(d3.axisLeft(y).tickValues(valueTicks).tickSize(-5).tickSizeOuter(0).tickPadding(8).tickFormat(d3.format('d')))
  .call(axisStyle);

svg.append('g')
  .attr('transform', `translate(${plot.right},0)`)
  .call(d3.axisRight(y).tickValues(valueTicks).tickSize(-5).tickSizeOuter(0).tickFormat(''))
  .call(axisStyle);

// titles
svg.append('text')
  .attr('x', (plot.left + plot.right) / 2)
  .attr('y', 19)
  .attr('text-anchor', 'middle')
  .text('Cumulative Z-Squared Value');

svg.append('text')
  .attr('x', (plot.left + plot.right) / 2)
  .attr('y', 476)
  .attr('text-anchor', 'middle')
  .text('Hour of Day');

svg.append('text')
  .attr('transform', `translate(15,${(plot.top + plot.bottom) / 2}) rotate(-90)`)
  .attr('text-anchor', 'middle')
  .text('Cumulative (Z*Z)-1');
</script>
</body>
</html>
